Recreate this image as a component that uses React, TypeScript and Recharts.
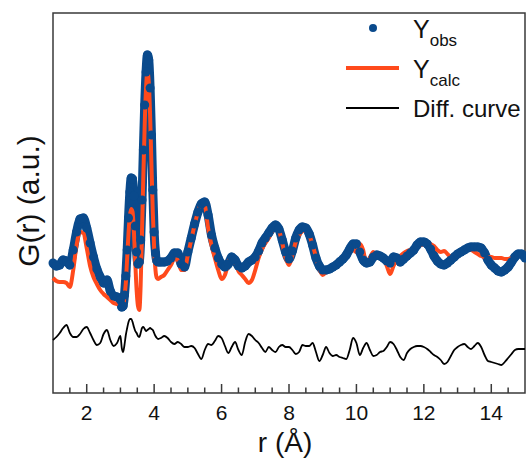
import React from "react";
import { Line, LineChart, ReferenceArea, XAxis, YAxis } from "recharts";

const BLUE = "#0a4a8c";
const ORANGE = "#ff4a1c";
const FRAME = "#3a3a3a";
const FONT = "'Liberation Sans', Arial, Helvetica, sans-serif";

// r grid (Å): 0.1 steps, finer through the two sharp peaks near 3.3 and 3.8
const rPoints = [
  1.0, 1.1, 1.2, 1.3, 1.4, 1.5, 1.6, 1.7, 1.8, 1.9, 2.0, 2.1, 2.2, 2.3, 2.4, 2.5, 2.6, 2.7, 2.8, 2.9, 3.0,
  3.04, 3.08, 3.12, 3.16, 3.2, 3.24, 3.28, 3.32, 3.36, 3.4, 3.44, 3.48, 3.52, 3.56, 3.6, 3.64, 3.68, 3.72,
  3.76, 3.8, 3.84, 3.88, 3.92, 3.96, 4.0, 4.04, 4.08, 4.12,
  4.2, 4.3, 4.4, 4.5, 4.6, 4.7, 4.8, 4.9, 5.0, 5.1,
  5.2, 5.3, 5.4, 5.5, 5.6, 5.7, 5.8, 5.9, 6.0, 6.1,
  6.2, 6.3, 6.4, 6.5, 6.6, 6.7, 6.8, 6.9, 7.0, 7.1,
  7.2, 7.3, 7.4, 7.5, 7.6, 7.7, 7.8, 7.9, 8.0, 8.1,
  8.2, 8.3, 8.4, 8.5, 8.6, 8.7, 8.8, 8.9, 9.0, 9.1,
  9.2, 9.3, 9.4, 9.5, 9.6, 9.7, 9.8, 9.9, 10.0, 10.1,
  10.2, 10.3, 10.4, 10.5, 10.6, 10.7, 10.8, 10.9, 11.0, 11.1,
  11.2, 11.3, 11.4, 11.5, 11.6, 11.7, 11.8, 11.9, 12.0, 12.1,
  12.2, 12.3, 12.4, 12.5, 12.6, 12.7, 12.8, 12.9, 13.0, 13.1,
  13.2, 13.3, 13.4, 13.5, 13.6, 13.7, 13.8, 13.9, 14.0, 14.1,
  14.2, 14.3, 14.4, 14.5, 14.6, 14.7, 14.8, 14.9, 15.0,
];

// observed G(r)
const yObs = [
  13.0, 12.7, 12.8, 13.3, 13.2, 12.8, 14.3, 16.1, 17.4, 17.5, 16.5, 15.0, 13.6, 12.4, 11.6, 11.0, 11.3, 10.2, 9.7, 9.6, 9.3,
  8.6, 8.7, 9.8, 11.7, 14.3, 17.5, 20.1, 21.5, 21.4, 19.7, 16.7, 14.1, 12.9, 13.1, 15.3, 19.3, 24.3, 28.8,
  32.1, 33.8, 33.3, 30.5, 25.8, 20.3, 16.1, 14.0, 13.2, 13.1,
  13.1, 13.1, 13.2, 13.5, 14.0, 14.0, 12.9, 12.6, 14.1, 15.5,
  16.9, 18.1, 18.9, 19.1, 17.8, 15.8, 14.5, 13.5, 12.9, 12.6,
  12.9, 13.6, 13.3, 12.7, 12.5, 12.7, 13.1, 13.3, 13.6, 14.2,
  15.0, 15.5, 16.0, 16.5, 16.8, 16.4, 15.3, 14.1, 13.4, 14.2,
  15.5, 16.3, 16.6, 16.5, 15.9, 14.8, 13.5, 12.7, 12.3, 12.3,
  12.4, 12.6, 12.8, 13.1, 13.4, 13.8, 14.4, 14.9, 14.9, 14.1,
  13.3, 13.0, 13.1, 13.6, 13.8, 13.7, 13.5, 13.2, 13.0, 13.6,
  13.5, 13.1, 13.4, 13.7, 14.0, 14.3, 14.8, 15.1, 15.1, 14.9,
  14.4, 13.7, 13.2, 12.9, 12.8, 13.0, 13.3, 13.6, 13.9, 14.1,
  14.3, 14.5, 14.6, 14.6, 14.6, 14.5, 14.0, 13.3, 12.8, 12.5,
  12.2, 12.1, 12.3, 12.6, 13.1, 13.6, 13.9, 13.9, 13.5,
];

// fitted G(r)
const yCalc = [
  11.5, 11.2, 11.1, 11.1, 11.0, 10.6, 12.3, 14.8, 16.1, 16.0, 14.5, 12.7, 11.6, 10.9, 10.3, 9.9, 9.6, 9.3, 9.0, 8.9, 8.8,
  8.6, 8.6, 9.7, 11.0, 13.5, 16.0, 17.7, 18.4, 18.1, 16.1, 13.1, 10.3, 8.7, 8.3, 10.8, 16.1, 21.8, 26.8,
  30.5, 32.1, 31.1, 27.8, 22.8, 18.1, 14.5, 12.3, 11.5, 11.4,
  11.6, 11.8, 12.3, 12.8, 13.4, 13.3, 12.3, 12.3, 13.8, 15.3,
  16.8, 18.1, 19.0, 18.8, 16.5, 14.8, 13.5, 12.3, 11.4, 11.8,
  13.0, 13.8, 13.1, 12.2, 11.8, 11.4, 11.0, 11.3, 12.3, 13.5,
  14.4, 15.0, 15.5, 16.2, 16.7, 16.3, 15.0, 13.5, 12.8, 13.8,
  15.1, 15.8, 16.2, 16.3, 15.8, 14.8, 13.6, 12.4, 11.8, 12.1,
  12.4, 12.6, 12.8, 13.0, 13.4, 13.9, 14.3, 14.3, 14.1, 14.9,
  14.3, 12.8, 13.5, 14.1, 13.8, 13.5, 13.4, 12.7, 11.9, 12.7,
  13.3, 13.7, 14.0, 14.2, 14.3, 14.5, 14.7, 14.8, 14.9, 15.0,
  14.9, 14.7, 14.3, 14.1, 14.2, 13.9, 13.6, 13.5, 13.7, 14.0,
  14.2, 14.3, 14.3, 14.1, 13.9, 13.7, 13.6, 13.6, 13.6, 13.5,
  13.5, 13.5, 13.4, 13.4, 13.5, 13.6, 13.8, 13.7, 13.5,
];

// difference curve, offset below the data
const yDiff = [
  5.3, 5.6, 6.0, 6.5, 6.8, 6.0, 5.6, 5.6, 5.9, 6.4, 6.6, 6.0, 5.3, 4.8, 5.0, 5.9, 6.3, 5.3, 4.7, 5.0, 5.7,
  4.5, 4.1, 4.8, 5.8, 6.5, 7.1, 7.4, 7.4, 7.1, 6.6, 6.2, 6.0, 5.7, 5.6, 6.0, 6.5, 6.6, 6.4,
  6.2, 6.3, 6.4, 6.5, 6.4, 6.3, 6.0, 5.7, 5.5, 5.4,
  5.5, 5.7, 5.5, 5.1, 4.9, 5.1, 4.9, 4.6, 4.6, 4.7,
  4.5, 3.9, 3.4, 4.3, 4.9, 4.8, 5.2, 5.7, 5.5, 4.7,
  4.0, 4.6, 5.1, 4.3, 3.8, 5.1, 5.9, 5.7, 5.3, 5.0,
  4.5, 4.1, 4.6, 4.3, 4.1, 4.6, 4.8, 4.6, 4.6, 4.3,
  3.9, 4.1, 4.8, 4.7, 4.7, 5.0, 4.1, 3.2, 3.8, 4.6,
  4.0, 3.7, 3.8, 3.6, 3.5, 3.4, 4.3, 5.5, 5.0, 3.8,
  4.5, 5.0, 4.3, 3.7, 3.8, 4.1, 4.2, 4.6, 5.1, 4.9,
  4.3, 3.6, 3.3, 4.0, 4.4, 4.6, 4.7, 4.7, 4.6, 4.4,
  4.1, 3.8, 3.6, 3.3, 2.9, 3.1, 3.7, 4.3, 4.6, 4.8,
  4.9, 4.6, 4.4, 4.7, 5.0, 4.6, 3.8, 3.2, 3.1, 3.0,
  2.9, 2.8, 3.1, 3.5, 3.9, 4.3, 4.4, 4.4, 4.4,
];

const xTicks = [
  1.5, 2, 2.5, 3, 3.5, 4, 4.5, 5, 5.5, 6, 6.5, 7, 7.5, 8, 8.5, 9, 9.5, 10, 10.5, 11, 11.5, 12, 12.5, 13, 13.5, 14, 14.5,
];
const labelledTicks = [2, 4, 6, 8, 10, 12, 14];

const rows = rPoints.map((r, i) => ({ r, obs: yObs[i], calc: yCalc[i], diff: yDiff[i] }));

// inward tick marks, labels only on the even values
function RTick(props: any) {
  const { x, y, payload } = props;
  const major = labelledTicks.includes(payload.value);
  return (
    <g>
      <line x1={x} x2={x} y1={y} y2={y - (major ? 9 : 5.5)} stroke={FRAME} strokeWidth={1.5} />
      {major ? (
        <text x={x} y={y + 27} textAnchor="middle" fontSize={21} fill="#111" fontFamily={FONT}>
          {payload.value}
        </text>
      ) : null}
    </g>
  );
}

export default function App() {
  return (
    <div style={{ position: "fixed", left: 0, top: 0, width: 526, height: 463, fontFamily: FONT, background: "#fff" }}>
      <LineChart width={526} height={463} data={rows} margin={{ top: 13, right: 1, bottom: 30, left: 53 }}>
        <XAxis
          dataKey="r"
          type="number"
          domain={[1, 15]}
          ticks={xTicks}
          interval={0}
          height={40}
          axisLine={false}
          tickLine={false}
          tickSize={0}
          tickMargin={0}
          tick={RTick}
        />
        <YAxis type="number" domain={[0, 38]} hide width={0} />
        <ReferenceArea x1={1} x2={15} y1={0} y2={38} fill="none" stroke={FRAME} strokeWidth={1.5} />
        <Line
          dataKey="obs"
          type="monotone"
          stroke={BLUE}
          strokeWidth={9}
          strokeLinejoin="round"
          dot={{ r: 4.5, fill: BLUE, stroke: "none" }}
          activeDot={false}
          isAnimationActive={false}
        />
        <Line
          dataKey="calc"
          type="monotone"
          stroke={ORANGE}
          strokeWidth={4}
          dot={false}
          activeDot={false}
          isAnimationActive={false}
        />
        <Line
          dataKey="diff"
          type="monotone"
          stroke="#000"
          strokeWidth={1.8}
          dot={false}
          activeDot={false}
          isAnimationActive={false}
        />
      </LineChart>
      <svg width={526} height={463} style={{ position: "absolute", left: 0, top: 0, pointerEvents: "none" }}>
        <g fontFamily={FONT} fill="#111">
          {/* legend */}
          <circle cx={373} cy={28} r={4} fill={BLUE} />
          <text x={413} y={38} fontSize={25}>
            Y<tspan fontSize={17} dy={8}>obs</tspan>
          </text>
          <line x1={346} x2={399} y1={68} y2={68} stroke={ORANGE} strokeWidth={4} />
          <text x={413} y={78} fontSize={25}>
            Y<tspan fontSize={17} dy={8}>calc</tspan>
          </text>
          <line x1={346} x2={399} y1={108} y2={108} stroke="#000" strokeWidth={2} />
          <text x={413} y={117} fontSize={24}>
            Diff. curve
          </text>
          {/* axis titles */}
          <text x={285} y={452} fontSize={28} textAnchor="middle">
            r (Å)
          </text>
          <text
            x={28}
            y={201}
            fontSize={30}
            textAnchor="middle"
            dominantBaseline="central"
            transform="rotate(-90 28 201)"
          >
            G(r) (a.u.)
          </text>
        </g>
      </svg>
    </div>
  );
}
